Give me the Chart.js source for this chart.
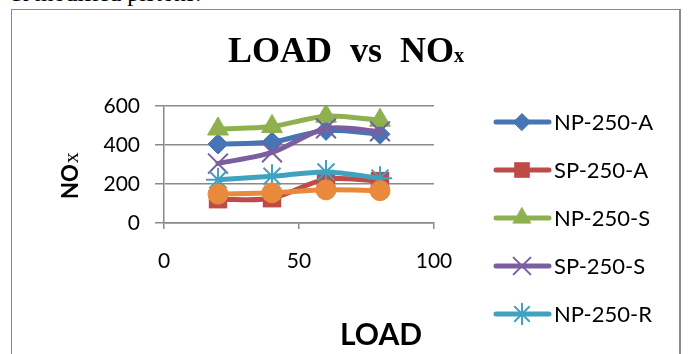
<!DOCTYPE html>
<html>
<head>
<meta charset="utf-8">
<script src="https://cdn.jsdelivr.net/npm/chart.js@4/dist/chart.umd.min.js"></script>
<style>
  html, body { margin: 0; padding: 0; background: #fff; overflow: hidden; }
  body { width: 688px; height: 354px; position: relative; }
  .doc-line {
    position: absolute; left: 10px; top: -20px;
    font: 24px "Liberation Serif", "Times New Roman", serif; color: #000; white-space: nowrap;
  }
  .frame {
    position: absolute; left: 11px; top: 9px; width: 670px; height: 420px;
    border: 1px solid #8a8a8a; border-right-width: 2px; box-sizing: border-box;
  }
  #chart { position: absolute; left: 0; top: 0; }
</style>
</head>
<body>
<div class="doc-line">&amp; modified pistons.</div>
<div class="frame"></div>
<canvas id="chart" width="688" height="354"></canvas>
<script>
// Engine load (%) and NOx readings for each piston configuration
const loads = [20, 40, 60, 80];
const seriesNames = ['NP-250-A', 'SP-250-A', 'NP-250-S', 'SP-250-S', 'NP-250-R', 'SP-250-R'];
const npA = [405, 415, 475, 455];
const spA = [122, 127, 225, 215];
const npS = [482, 495, 548, 527];
const spS = [305, 362, 485, 470];
const npR = [222, 240, 262, 230];
const spR = [148, 155, 170, 166];
const yTicks = [0, 200, 400, 600];
const xTicks = [0, 50, 100];

const titleMain = 'LOAD  vs  NO';
const titleSub = 'x';
const yTitleMain = 'NO';
const yTitleSub = 'x';
const xTitle = 'LOAD';

const seriesValues = [npA, spA, npS, spS, npR, spR];
const colors = ['#4674B4', '#BE4B48', '#8FB04F', '#7A5FA0', '#41A2BF', '#E8893B'];
const markers = [
  { style: 'rectRot', r: 10, bw: 1 },
  { style: 'rect', r: 13, bw: 0 },
  { style: 'triangle', r: 12, bw: 1 },
  { style: 'crossRot', r: 14, bw: 2 },
  { style: 'star', r: 12, bw: 2 },
  { style: 'circle', r: 10, bw: 1 }
];

const datasets = seriesValues.map((vals, i) => ({
  label: seriesNames[i],
  data: loads.map((x, j) => ({ x: x, y: vals[j] })),
  borderColor: colors[i],
  backgroundColor: colors[i],
  borderWidth: 5,
  borderCapStyle: 'round',
  borderJoinStyle: 'round',
  tension: 0.3,
  pointStyle: markers[i].style,
  pointRadius: markers[i].r,
  pointBorderWidth: markers[i].bw,
  pointBackgroundColor: colors[i],
  pointBorderColor: colors[i],
  order: seriesValues.length - i
}));

// Titles and the line+marker legend, drawn onto the chart canvas
const decorations = {
  id: 'decorations',
  afterDraw(chart) {
    const ctx = chart.ctx;
    ctx.save();
    ctx.fillStyle = '#000';
    ctx.textBaseline = 'alphabetic';

    // chart title with subscript x
    const mainFont = 'bold 36px "Liberation Serif", "Times New Roman", serif';
    const subFont = 'bold 20px "Liberation Serif", "Times New Roman", serif';
    ctx.font = mainFont;
    const wMain = ctx.measureText(titleMain).width;
    ctx.font = subFont;
    const wSub = ctx.measureText(titleSub).width;
    const tx = 346 - (wMain + wSub) / 2;
    ctx.textAlign = 'left';
    ctx.font = mainFont;
    ctx.fillText(titleMain, tx, 62);
    ctx.font = subFont;
    ctx.fillText(titleSub, tx + wMain, 62);

    // y-axis title, rotated
    ctx.save();
    ctx.translate(78, 199);
    ctx.rotate(-Math.PI / 2);
    ctx.font = 'bold 22px Lato, "Open Sans", sans-serif';
    ctx.fillText(yTitleMain, 0, 0);
    const wy = ctx.measureText(yTitleMain).width;
    ctx.font = '22px "Liberation Serif", serif';
    ctx.fillText(yTitleSub, wy + 1, 0);
    ctx.restore();

    // x-axis title
    ctx.font = 'bold 30px Lato, "Open Sans", sans-serif';
    ctx.textAlign = 'center';
    ctx.fillText(xTitle, 381, 345);

    // legend (entries below the visible area are left out)
    chart.data.datasets.forEach((ds, i) => {
      const y = 122 + 48 * i;
      if (y > chart.height) return;
      ctx.strokeStyle = ds.borderColor;
      ctx.lineWidth = 5;
      ctx.lineCap = 'round';
      ctx.beginPath();
      ctx.moveTo(496, y);
      ctx.lineTo(549, y);
      ctx.stroke();
      ctx.fillStyle = ds.backgroundColor;
      ctx.lineWidth = ds.pointBorderWidth;
      Chart.helpers.drawPoint(ctx, {
        pointStyle: ds.pointStyle,
        radius: ds.pointRadius * 0.85,
        rotation: 0,
        borderWidth: ds.pointBorderWidth
      }, 522, y);
      ctx.fillStyle = '#000';
      ctx.font = '22px Lato, "Open Sans", sans-serif';
      ctx.textAlign = 'left';
      ctx.textBaseline = 'middle';
      ctx.fillText(ds.label, 554, y + 1);
    });
    ctx.restore();
  }
};

new Chart(document.getElementById('chart'), {
  type: 'line',
  data: { datasets: datasets },
  options: {
    responsive: false,
    animation: false,
    devicePixelRatio: 1,
    layout: { padding: { left: 0, right: 254, top: 106, bottom: 0 } },
    plugins: { legend: { display: false }, tooltip: { enabled: false }, title: { display: false } },
    scales: {
      x: {
        type: 'linear',
        min: 0, max: 100,
        afterFit(s) { s.height = 131; },
        afterBuildTicks(s) { s.ticks = xTicks.map(v => ({ value: v })); },
        grid: { drawOnChartArea: false, drawTicks: true, tickLength: 6, color: '#8a8a8a', lineWidth: 1.5 },
        border: { color: '#8a8a8a', width: 1.5 },
        ticks: { padding: 20, color: '#000', font: { family: 'Lato, "Open Sans", sans-serif', size: 21 } }
      },
      y: {
        min: 0, max: 600,
        afterFit(s) { s.width = 164; },
        afterBuildTicks(s) { s.ticks = yTicks.map(v => ({ value: v })); },
        grid: { drawOnChartArea: true, drawTicks: true, tickLength: 9, color: '#8a8a8a', lineWidth: 1.5 },
        border: { color: '#8a8a8a', width: 1.5 },
        ticks: { padding: 15, color: '#000', font: { family: 'Lato, "Open Sans", sans-serif', size: 21 } }
      }
    }
  },
  plugins: [decorations]
});
</script>
</body>
</html>
